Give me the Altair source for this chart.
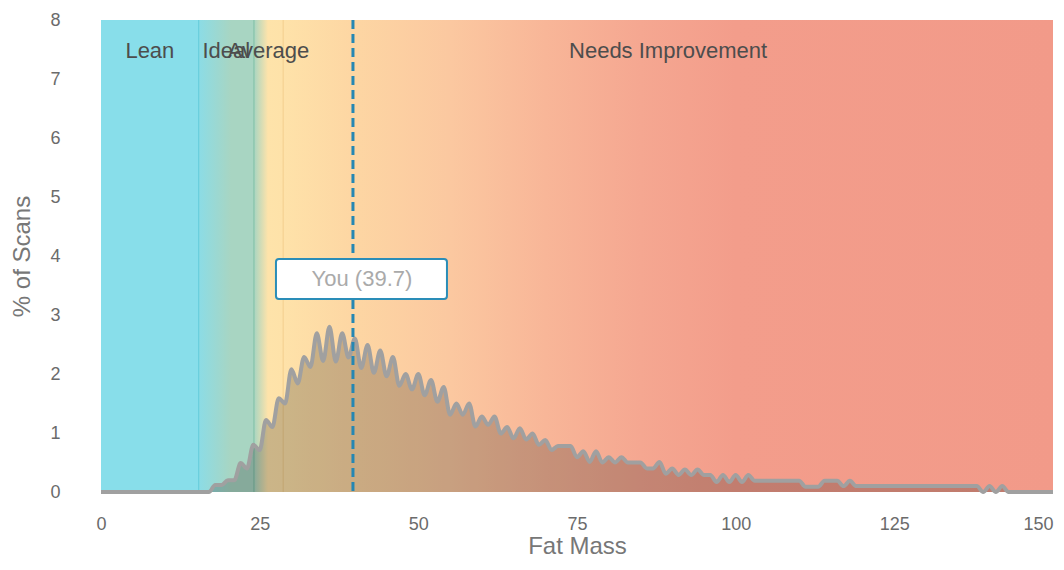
import altair as alt
import pandas as pd

# ---------------- data ----------------
fat_mass = list(range(0, 151))
pct_scans = (
    [0.0] * 17 +                                   # 0..16
    [0.0, 0.12, 0.12, 0.20, 0.20,                  # 17..21
     0.49, 0.40, 0.80, 0.71, 1.22, 1.10, 1.59, 1.50, 2.08, 1.84,   # 22..31
     2.29, 2.12, 2.69, 2.22, 2.80, 2.21, 2.69, 2.28, 2.60, 2.10,   # 32..41
     2.49, 2.02, 2.40, 1.96, 2.29, 1.80, 2.00, 1.74, 2.00, 1.64,   # 42..51
     1.90, 1.53, 1.78, 1.31, 1.50, 1.31, 1.50, 1.11, 1.28, 1.14,   # 52..61
     1.28, 0.99, 1.10, 0.91, 1.08, 0.89, 0.99, 0.80, 0.88, 0.71,   # 62..71
     0.78, 0.78, 0.78, 0.59, 0.69, 0.51, 0.69, 0.50, 0.59, 0.50,   # 72..81
     0.59, 0.50, 0.50, 0.50, 0.40, 0.40, 0.51, 0.31, 0.40, 0.29,   # 82..91
     0.38, 0.29, 0.38, 0.29, 0.29, 0.17, 0.29, 0.17, 0.29, 0.17,   # 92..101
     0.29] +                                        # 102
    [0.19] * 8 +                                   # 103..110
    [0.09] * 3 +                                   # 111..113
    [0.19] * 3 +                                   # 114..116
    [0.10, 0.19] +                                 # 117..118
    [0.10] * 20 +                                  # 119..138
    [0.0, 0.10, 0.0, 0.10] +                       # 139..142
    [0.0] * 8                                      # 143..150
)

zone_names = ["Lean", "Ideal", "Average", "Needs Improvement"]
zone_start = [0, 15.4, 24.1, 28.7]
zone_end = [15.4, 24.1, 28.7, 150]
boundary_colors = ["#62CBD9", "#80BFA5", "#F3CE8E"]

you_value = 39.7

x_ticks = [0, 25, 50, 75, 100, 125, 150]
y_ticks = [0, 1, 2, 3, 4, 5, 6, 7, 8]

# background gradient stops (fat-mass position, colour)
grad_pos = [0, 15.4, 15.5, 20.5, 24.1, 26.3, 28.7, 40, 55, 70, 85, 100, 150]
grad_col = ["#88DEEA", "#88DEEA", "#8CDCE5", "#A8D5C2", "#A8D5C2", "#FEE3AA",
            "#FEE2A9", "#FDD6A3", "#FBC8A0", "#F8B698", "#F5A791", "#F39D8B",
            "#F29A89"]

# ---------------- tables ----------------
curve = pd.DataFrame({"fat": fat_mass, "pct": pct_scans})
zones = pd.DataFrame({"name": zone_names, "start": zone_start, "end": zone_end})
bounds = pd.DataFrame({"b": zone_start[1:], "c": boundary_colors})
you = pd.DataFrame({"v": [you_value], "label": [f"You ({you_value})"]})
frame = pd.DataFrame({"x0": [x_ticks[0]], "x1": [x_ticks[-1]],
                      "y0": [y_ticks[0]], "y1": [y_ticks[-1]]})

span = x_ticks[-1] - x_ticks[0]
gradient = alt.LinearGradient(
    gradient="linear",
    stops=[alt.GradientStop(offset=(p - x_ticks[0]) / span, color=c)
           for p, c in zip(grad_pos, grad_col)],
    x1=0, x2=1, y1=0, y2=0,
)

xscale = alt.Scale(domain=[x_ticks[0], x_ticks[-1]], nice=False, zero=False)
yscale = alt.Scale(domain=[y_ticks[0], y_ticks[-1]], nice=False)

xaxis = alt.Axis(
    values=x_ticks, title="Fat Mass", labelPadding=23, titlePadding=1,
    labelFlush=False,
    labelAlign={"condition": {"test": f"datum.value >= {x_ticks[-1]}",
                              "value": "right"},
                "value": "center"},
)
yaxis = alt.Axis(values=y_ticks, title="% of Scans", labelPadding=41,
                 titlePadding=15, labelFlush=False)


def X(field):
    return alt.X(field, scale=xscale, axis=xaxis)


def Y(field):
    return alt.Y(field, scale=yscale, axis=yaxis)


bg = alt.Chart(frame).mark_rect(color=gradient).encode(
    x=X("x0:Q"), x2="x1:Q", y=Y("y0:Q"), y2="y1:Q",
)

rules = alt.Chart(bounds).mark_rule(strokeWidth=1).encode(
    x=X("b:Q"),
    color=alt.Color("c:N", scale=None),
)

area = alt.Chart(curve).mark_area(interpolate="monotone", color="black",
                                  opacity=0.2).encode(
    x=X("fat:Q"), y=Y("pct:Q"),
)

line = alt.Chart(curve).mark_line(interpolate="monotone", color="#A0A0A0",
                                  strokeWidth=4).encode(
    x=X("fat:Q"), y=Y("pct:Q"),
)

you_rule = alt.Chart(you).mark_rule(color="#2587B3", strokeWidth=3,
                                    strokeDash=[9, 5]).encode(
    x=X("v:Q"),
)

you_box = alt.Chart(you).mark_rect(fill="white", stroke="#2A8DB8",
                                   strokeWidth=2, cornerRadius=3,
                                   xOffset=-77, x2Offset=94).encode(
    x=X("v:Q"), x2="v:Q",
    y=alt.value(239), y2=alt.value(279),
)

you_text = alt.Chart(you).mark_text(font="Liberation Sans", fontSize=22,
                                    color="#AAAAAA", align="center",
                                    baseline="middle", dx=9).encode(
    x=X("v:Q"), y=alt.value(259), text="label:N",
)

zone_text = alt.Chart(zones).transform_calculate(
    mid="(datum.start + datum.end) / 2"
).mark_text(font="Liberation Sans", fontSize=22, color="#4D4D4D",
            align="center", baseline="middle").encode(
    x=X("mid:Q"), y=alt.value(31), text="name:N",
)

chart = alt.layer(bg, rules, area, line, you_rule, you_box, you_text,
                  zone_text).properties(
    width=952, height=472,
    autosize=alt.AutoSizeParams(type="none"),
    padding={"left": 93, "top": 12, "right": 3, "bottom": 66},
).configure_view(stroke=None).configure_axis(
    grid=False, domain=False, ticks=False, tickSize=0,
    labelFont="Liberation Sans", labelFontSize=18, labelColor="#6B6B6B",
    titleFont="Liberation Sans", titleFontSize=24, titleColor="#777777",
    titleFontWeight="normal",
)

chart.save("out.html", embed_options={"renderer": "svg", "actions": False})
